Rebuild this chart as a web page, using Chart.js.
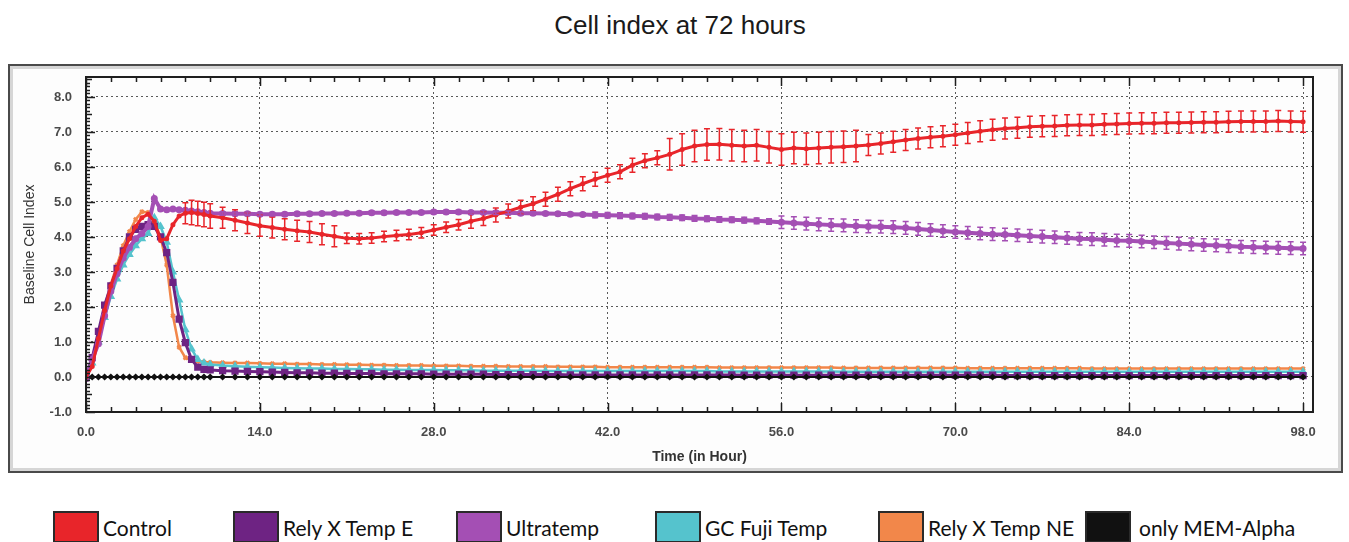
<!DOCTYPE html>
<html>
<head>
<meta charset="utf-8">
<script src="https://cdn.jsdelivr.net/npm/chart.js@4.4.1/dist/chart.umd.min.js"></script>
<style>
  html, body { margin: 0; padding: 0; background: #fff; }
  #page { position: relative; width: 1349px; height: 542px; overflow: hidden; }
  #title { position: absolute; left: 0; top: 8px; width: 1360px; text-align: center;
           font: 26px "Liberation Sans", Arial, sans-serif; color: #1a1a1a; line-height: 34px; }
  #frame { position: absolute; left: 8px; top: 64px; width: 1331px; height: 405px;
           border: 2px solid #4a4a4a; box-shadow: inset 0 0 0 3px #d6d6d6; background: #fdfdfd; }
  #chart { position: absolute; left: 0; top: 0; }
  .lg { position: absolute; top: 511px; height: 32px; font: 21px Lato, "Open Sans", sans-serif; color: #111; }
  .lg .box { position: absolute; top: 0; width: 42px; height: 28px; border: 2px solid #2a2a2a; }
  .lg .txt { position: absolute; top: 2px; white-space: nowrap; line-height: 30px; }
</style>
</head>
<body>
<div id="page">
  <div id="title">Cell index at 72 hours</div>
  <div id="frame"></div>
  <canvas id="chart" width="1349" height="474"></canvas>
  <div id="legend"></div>
</div>
<script>
// time axis (hours): half-hour steps to 10 h, then hourly
const hours = [
  0, 0.5, 1, 1.5, 2, 2.5, 3, 3.5, 4, 4.5, 5, 5.5, 6, 6.5, 7, 7.5, 8, 8.5, 9, 9.5, 10,
  11, 12, 13, 14, 15, 16, 17, 18, 19, 20,
  21, 22, 23, 24, 25, 26, 27, 28, 29, 30,
  31, 32, 33, 34, 35, 36, 37, 38, 39, 40,
  41, 42, 43, 44, 45, 46, 47, 48, 49, 50,
  51, 52, 53, 54, 55, 56, 57, 58, 59, 60,
  61, 62, 63, 64, 65, 66, 67, 68, 69, 70,
  71, 72, 73, 74, 75, 76, 77, 78, 79, 80,
  81, 82, 83, 84, 85, 86, 87, 88, 89, 90,
  91, 92, 93, 94, 95, 96, 97, 98
];

const control = [
  0, 0.3, 1.1, 1.9, 2.6, 3.1, 3.6, 3.95, 4.3, 4.55, 4.65, 4.45, 3.9, 3.95, 4.35, 4.6, 4.68, 4.7, 4.67, 4.64, 4.6,
  4.55, 4.48, 4.4, 4.32, 4.27, 4.22, 4.18, 4.14, 4.08, 4.02,
  3.96, 3.95, 3.97, 4.01, 4.04, 4.07, 4.12, 4.2, 4.28, 4.35,
  4.45, 4.53, 4.63, 4.74, 4.85, 4.95, 5.08, 5.22, 5.38, 5.52,
  5.65, 5.76, 5.86, 6.05, 6.18, 6.26, 6.36, 6.5, 6.6, 6.64,
  6.65, 6.62, 6.6, 6.62, 6.56, 6.5, 6.54, 6.52, 6.54, 6.56,
  6.58, 6.6, 6.63, 6.67, 6.72, 6.77, 6.81, 6.85, 6.88, 6.92,
  6.97, 7.02, 7.06, 7.1, 7.12, 7.15, 7.16, 7.17, 7.19, 7.2,
  7.2, 7.22, 7.23, 7.24, 7.25, 7.25, 7.26, 7.26, 7.27, 7.28,
  7.28, 7.29, 7.3, 7.3, 7.3, 7.31, 7.3, 7.29
];
const controlErr = [
  0, 0, 0, 0, 0, 0, 0, 0, 0, 0, 0, 0, 0, 0, 0, 0, 0.3, 0.35, 0.35, 0.35, 0.35,
  0.3, 0.3, 0.3, 0.3, 0.3, 0.3, 0.3, 0.3, 0.3, 0.3,
  0.15, 0.15, 0.15, 0.15, 0.15, 0.15, 0.15, 0.15, 0.15, 0.15,
  0.2, 0.2, 0.2, 0.2, 0.2, 0.2, 0.2, 0.2, 0.2, 0.2,
  0.2, 0.2, 0.2, 0.2, 0.2, 0.2, 0.45, 0.45, 0.45, 0.45,
  0.45, 0.45, 0.45, 0.45, 0.45, 0.45, 0.45, 0.45, 0.45, 0.45,
  0.45, 0.45, 0.3, 0.3, 0.3, 0.3, 0.3, 0.3, 0.3, 0.3,
  0.3, 0.3, 0.3, 0.3, 0.3, 0.3, 0.3, 0.3, 0.3, 0.3,
  0.3, 0.3, 0.3, 0.3, 0.3, 0.3, 0.3, 0.3, 0.3, 0.3,
  0.3, 0.3, 0.3, 0.3, 0.3, 0.3, 0.3, 0.3
];

const relyXTempE = [
  0, 0.55, 1.3, 2.05, 2.6, 3.1, 3.6, 4.0, 4.22, 4.3, 4.35, 4.3, 4.0, 3.55, 2.7, 1.65, 0.98, 0.5, 0.28, 0.22, 0.2,
  0.18, 0.17, 0.16, 0.15, 0.14, 0.13, 0.12, 0.12, 0.11, 0.11,
  0.1, 0.1, 0.1, 0.09, 0.09, 0.09, 0.09, 0.08, 0.08, 0.08,
  0.08, 0.08, 0.07, 0.07, 0.07, 0.07, 0.07, 0.07, 0.06, 0.06,
  0.06, 0.06, 0.06, 0.06, 0.06, 0.06, 0.06, 0.06, 0.06, 0.06,
  0.06, 0.06, 0.05, 0.05, 0.05, 0.05, 0.05, 0.05, 0.05, 0.05,
  0.05, 0.05, 0.05, 0.05, 0.05, 0.05, 0.05, 0.05, 0.05, 0.05,
  0.05, 0.05, 0.05, 0.04, 0.04, 0.04, 0.04, 0.04, 0.04, 0.04,
  0.04, 0.04, 0.04, 0.04, 0.04, 0.04, 0.04, 0.04, 0.04, 0.04,
  0.04, 0.04, 0.04, 0.04, 0.04, 0.04, 0.04, 0.04
];

const ultratemp = [
  -0.05, 0.5, 0.95, 1.75, 2.45, 2.95, 3.4, 3.7, 3.95, 4.1, 4.3, 5.1, 4.8, 4.78, 4.8, 4.78, 4.76, 4.74, 4.72, 4.7, 4.68,
  4.67, 4.66, 4.66, 4.65, 4.65, 4.65, 4.66, 4.66, 4.67, 4.67,
  4.68, 4.68, 4.69, 4.69, 4.7, 4.7, 4.7, 4.71, 4.71, 4.71,
  4.7, 4.7, 4.69, 4.69, 4.68, 4.68, 4.67, 4.66, 4.65, 4.64,
  4.63, 4.62, 4.61, 4.6, 4.59, 4.57, 4.56, 4.55, 4.53, 4.52,
  4.5, 4.49, 4.48, 4.46, 4.44, 4.42, 4.4, 4.38, 4.36, 4.34,
  4.33, 4.31, 4.3, 4.29, 4.28, 4.26, 4.23, 4.2, 4.17, 4.14,
  4.12, 4.1, 4.08, 4.07, 4.05, 4.03, 4.01, 3.99, 3.97, 3.95,
  3.94, 3.92, 3.9, 3.89, 3.87, 3.85, 3.83, 3.81, 3.79, 3.77,
  3.76, 3.74, 3.72, 3.71, 3.7, 3.69, 3.68, 3.67
];
const ultratempErr = [
  0, 0, 0, 0, 0, 0, 0, 0, 0, 0, 0, 0, 0, 0, 0, 0, 0, 0, 0, 0, 0,
  0.05, 0.05, 0.05, 0.05, 0.05, 0.05, 0.05, 0.05, 0.05, 0.05,
  0.05, 0.05, 0.05, 0.05, 0.05, 0.05, 0.05, 0.05, 0.05, 0.05,
  0.05, 0.05, 0.05, 0.05, 0.05, 0.05, 0.05, 0.05, 0.05, 0.05,
  0.08, 0.08, 0.08, 0.08, 0.08, 0.08, 0.08, 0.08, 0.08, 0.08,
  0.08, 0.08, 0.08, 0.08, 0.08, 0.18, 0.18, 0.18, 0.18, 0.18,
  0.18, 0.18, 0.18, 0.18, 0.18, 0.18, 0.18, 0.18, 0.18, 0.18,
  0.18, 0.18, 0.18, 0.18, 0.18, 0.18, 0.18, 0.18, 0.18, 0.18,
  0.18, 0.18, 0.18, 0.18, 0.18, 0.18, 0.18, 0.18, 0.18, 0.18,
  0.18, 0.18, 0.18, 0.18, 0.18, 0.18, 0.18, 0.18
];

const gcFujiTemp = [
  0, 0.4, 1.0, 1.7, 2.3, 2.8, 3.2, 3.5, 3.75, 3.95, 4.1, 4.55, 4.3, 3.85, 3.0, 2.2, 1.35, 0.8, 0.5, 0.4, 0.36,
  0.33, 0.31, 0.29, 0.28, 0.27, 0.26, 0.25, 0.24, 0.24, 0.23,
  0.23, 0.22, 0.22, 0.21, 0.21, 0.2, 0.2, 0.2, 0.19, 0.19,
  0.19, 0.18, 0.18, 0.18, 0.18, 0.18, 0.17, 0.17, 0.17, 0.17,
  0.17, 0.17, 0.17, 0.17, 0.17, 0.17, 0.17, 0.17, 0.17, 0.17,
  0.16, 0.16, 0.16, 0.16, 0.16, 0.16, 0.16, 0.16, 0.16, 0.16,
  0.15, 0.15, 0.15, 0.15, 0.15, 0.15, 0.15, 0.15, 0.15, 0.15,
  0.15, 0.15, 0.15, 0.15, 0.15, 0.15, 0.15, 0.15, 0.15, 0.15,
  0.15, 0.15, 0.15, 0.15, 0.15, 0.15, 0.15, 0.15, 0.15, 0.15,
  0.15, 0.15, 0.15, 0.15, 0.15, 0.15, 0.15, 0.15
];

const relyXTempNE = [
  0, 0.35, 1.2, 2.0, 2.65, 3.2, 3.75, 4.15, 4.5, 4.72, 4.7, 4.45, 4.0, 3.2, 1.75, 0.85, 0.55, 0.48, 0.45, 0.43, 0.42,
  0.41, 0.4, 0.4, 0.39, 0.38, 0.38, 0.37, 0.37, 0.36, 0.36,
  0.35, 0.35, 0.34, 0.34, 0.33, 0.33, 0.33, 0.32, 0.32, 0.32,
  0.31, 0.31, 0.31, 0.3, 0.3, 0.3, 0.3, 0.29, 0.29, 0.29,
  0.29, 0.28, 0.28, 0.28, 0.28, 0.28, 0.28, 0.28, 0.28, 0.28,
  0.27, 0.27, 0.27, 0.27, 0.27, 0.27, 0.27, 0.27, 0.27, 0.27,
  0.26, 0.26, 0.26, 0.26, 0.26, 0.26, 0.26, 0.26, 0.26, 0.26,
  0.25, 0.25, 0.25, 0.25, 0.25, 0.25, 0.25, 0.25, 0.25, 0.25,
  0.24, 0.24, 0.24, 0.24, 0.24, 0.24, 0.24, 0.24, 0.24, 0.24,
  0.24, 0.24, 0.24, 0.24, 0.24, 0.24, 0.24, 0.24
];

const memAlpha = [
  -0.05, 0, 0, 0, 0, 0, 0, 0, 0, 0, 0, 0, 0, 0, 0, 0, 0, 0, 0, 0, 0,
  0, 0, 0, 0, 0, 0, 0, 0, 0, 0,
  0, 0, 0, 0, 0, 0, 0, 0, 0, 0,
  0, 0, 0, 0, 0, 0, 0, 0, 0, 0,
  0, 0, 0, 0, 0, 0, 0, 0, 0, 0,
  0, 0, 0, 0, 0, 0, 0, 0, 0, 0,
  0, 0, 0, 0, 0, 0, 0, 0, 0, 0,
  0, 0, 0, 0, 0, 0, 0, 0, 0, 0,
  0, 0, 0, 0, 0, 0, 0, 0, 0, 0,
  0, 0, 0, 0, 0, 0, 0, 0
];

const xTicks = [0, 14, 28, 42, 56, 70, 84, 98];
const yTicks = [-1, 0, 1, 2, 3, 4, 5, 6, 7, 8];

const seriesNames = ['Control', 'Rely X Temp E', 'Ultratemp', 'GC Fuji Temp', 'Rely X Temp NE', 'only MEM-Alpha'];
const seriesColors = ['#e8252a', '#6e2383', '#a44fb4', '#55c3cd', '#f2874a', '#111111'];

// legend (drawn as html, positions as in the figure)
const legendLeft = [53, 233, 456, 655, 878, 1085];
const legendEl = document.getElementById('legend');
seriesNames.forEach((name, i) => {
  const item = document.createElement('div');
  item.className = 'lg';
  item.style.left = legendLeft[i] + 'px';
  item.innerHTML = '<div class="box" style="background:' + seriesColors[i] + '"></div>' +
                   '<div class="txt" style="left:' + (i === 5 ? 54 : 50) + 'px">' + name + '</div>';
  legendEl.appendChild(item);
});

function pts(vals) {
  return hours.map((h, i) => ({ x: h, y: vals[i] }));
}

// error bars + frame + small axis ticks
const extras = {
  id: 'extras',
  afterDatasetsDraw(chart) {
    const ctx = chart.ctx;
    const y = chart.scales.y;
    ctx.save();
    chart.data.datasets.forEach((ds, di) => {
      if (!ds.errors) return;
      const meta = chart.getDatasetMeta(di);
      ctx.strokeStyle = ds.borderColor;
      ctx.lineWidth = 1.5;
      meta.data.forEach((pt, i) => {
        const e = ds.errors[i];
        if (!e) return;
        const v = ds.data[i].y;
        const top = y.getPixelForValue(v + e);
        const bot = y.getPixelForValue(v - e);
        ctx.beginPath();
        ctx.moveTo(pt.x, top); ctx.lineTo(pt.x, bot);
        ctx.moveTo(pt.x - 3, top); ctx.lineTo(pt.x + 3, top);
        ctx.moveTo(pt.x - 3, bot); ctx.lineTo(pt.x + 3, bot);
        ctx.stroke();
      });
    });
    ctx.restore();
  },
  afterDraw(chart) {
    const { ctx, chartArea: a, scales: { x, y } } = chart;
    ctx.save();
    ctx.strokeStyle = '#1e1e1e';
    ctx.lineWidth = 2;
    ctx.strokeRect(a.left, a.top, a.right - a.left, a.bottom - a.top);
    ctx.lineWidth = 1.5;
    ctx.beginPath();
    for (let k = -10; k <= 85; k++) {
      const py = Math.round(y.getPixelForValue(k / 10)) + 0.5;
      const len = k % 10 === 0 ? 9 : (k % 5 === 0 ? 6 : 4);
      ctx.moveTo(a.left, py); ctx.lineTo(a.left + len, py);
    }
    for (let h = 0; h <= 98; h += 2) {
      const px = Math.round(x.getPixelForValue(h)) + 0.5;
      const len = h % 14 === 0 ? 9 : 5;
      ctx.moveTo(px, a.bottom); ctx.lineTo(px, a.bottom - len);
      ctx.moveTo(px, a.top); ctx.lineTo(px, a.top + len);
    }
    ctx.stroke();
    ctx.restore();
  }
};

function onlyIntegers(scale, list) {
  scale.ticks = list.map(v => ({ value: v }));
}

new Chart(document.getElementById('chart'), {
  type: 'line',
  data: {
    datasets: [
      { label: seriesNames[0], data: pts(control), errors: controlErr, borderColor: seriesColors[0], backgroundColor: seriesColors[0],
        borderWidth: 3, pointRadius: 1, pointStyle: 'circle', order: 0 },
      { label: seriesNames[2], data: pts(ultratemp), errors: ultratempErr, borderColor: seriesColors[2], backgroundColor: seriesColors[2],
        borderWidth: 4, pointRadius: 1.5, pointStyle: 'circle', order: 1 },
      { label: seriesNames[5], data: pts(memAlpha), borderColor: seriesColors[5], backgroundColor: seriesColors[5],
        borderWidth: 2, pointRadius: 2.2, pointStyle: 'rectRot', order: 2 },
      { label: seriesNames[1], data: pts(relyXTempE), borderColor: seriesColors[1], backgroundColor: seriesColors[1],
        borderWidth: 3, pointRadius: 3, pointStyle: 'rect', order: 3 },
      { label: seriesNames[3], data: pts(gcFujiTemp), borderColor: seriesColors[3], backgroundColor: seriesColors[3],
        borderWidth: 2.5, pointRadius: 2.5, pointStyle: 'triangle', order: 4 },
      { label: seriesNames[4], data: pts(relyXTempNE), borderColor: seriesColors[4], backgroundColor: seriesColors[4],
        borderWidth: 2.5, pointRadius: 2.5, pointStyle: 'crossRot', order: 5 }
    ]
  },
  options: {
    responsive: false,
    animation: false,
    devicePixelRatio: 1,
    layout: { padding: { left: 14, top: 77, right: 36, bottom: 0 } },
    plugins: { legend: { display: false }, tooltip: { enabled: false }, title: { display: false } },
    elements: { line: { tension: 0 } },
    scales: {
      x: {
        type: 'linear', min: 0, max: 98.8,
        afterBuildTicks: s => onlyIntegers(s, xTicks),
        afterFit: s => { s.height = 62; },
        grid: { color: '#5a5a5a', lineWidth: 1, drawTicks: false },
        border: { display: false, dash: [2, 3] },
        ticks: { padding: 13, color: '#4a4a4a', font: { family: 'Liberation Sans', size: 13, weight: 'bold' },
                 callback: v => Number(v).toFixed(1), maxRotation: 0 },
        title: { display: true, text: 'Time (in Hour)', color: '#333',
                 font: { family: 'Liberation Sans', size: 14, weight: 'bold' }, padding: { top: 0, bottom: 8 } }
      },
      y: {
        min: -1, max: 8.57,
        afterBuildTicks: s => onlyIntegers(s, yTicks),
        afterFit: s => { s.width = 72; },
        grid: { color: '#5a5a5a', lineWidth: 1, drawTicks: false },
        border: { display: false, dash: [2, 3] },
        ticks: { padding: 14, color: '#4a4a4a', font: { family: 'Liberation Sans', size: 13, weight: 'bold' },
                 callback: v => Number(v).toFixed(1) },
        title: { display: true, text: 'Baseline Cell Index', color: '#333',
                 font: { family: 'Liberation Sans Narrow, Liberation Sans', size: 14 }, padding: { top: 8, bottom: 0 } }
      }
    }
  },
  plugins: [extras]
});
</script>
</body>
</html>
